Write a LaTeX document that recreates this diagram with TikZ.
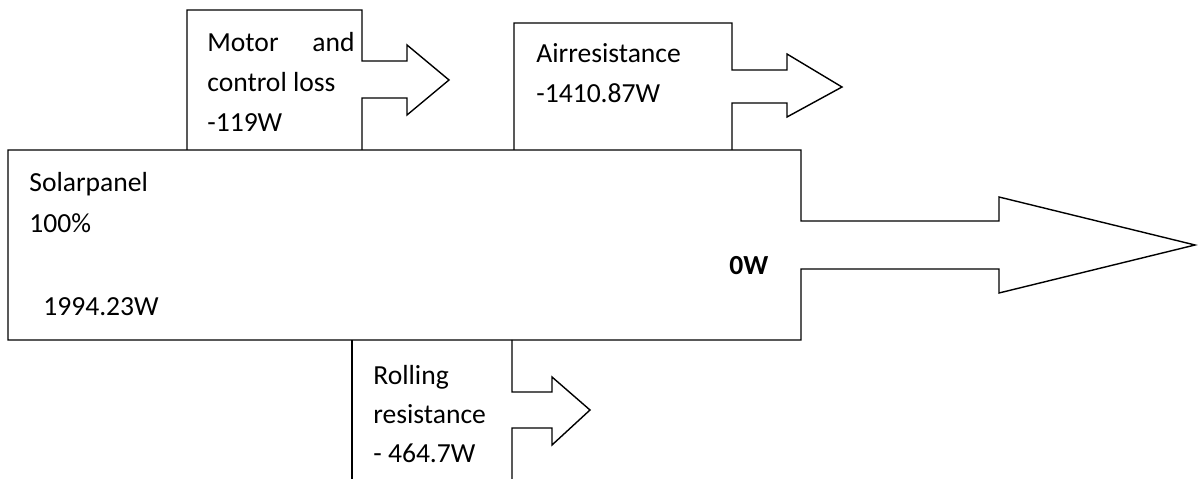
\documentclass[tikz,border=0pt]{standalone}
\usepackage{fontspec}
\setmainfont{Carlito}
\usetikzlibrary{positioning}

\tikzset{
  lbl/.style={anchor=base west,inner sep=0pt,font=\fontsize{15.7}{22.7}\selectfont},
  flow/.style={draw,line width=0.8pt,line join=miter}
}

\begin{document}
\begin{tikzpicture}[x=0.02cm,y=-0.02cm]
\useasboundingbox (0,0) rectangle (1200,479);

% solar panel with the outgoing arrow
\draw[flow] (8,150) -- (801,150) -- (801,221) -- (999,221) -- (999,197) -- (1195,245)
  -- (999,293) -- (999,269) -- (801,269) -- (801,340) -- (8,340) -- cycle;
% motor and control loss
\draw[flow] (187,150) -- (187,10) -- (362,10) -- (362,61) -- (407,61) -- (407,45) -- (449,80)
  -- (407,115) -- (407,98) -- (362,98) -- (362,150);
% air resistance
\draw[flow] (514,150) -- (514,23) -- (732,23) -- (732,70) -- (787,70) -- (787,54) -- (842,87)
  -- (787,117) -- (787,103) -- (732,103) -- (732,150);
% rolling resistance
\draw[flow] (352,479) -- (352,340);
\draw[flow] (512,340) -- (512,392) -- (552,392) -- (552,377) -- (590,410)
  -- (552,445) -- (552,428) -- (512,428) -- (512,479);

\node[lbl] (solar) at (29,192) {Solarpanel};
\node[lbl] (pct) at (29,233) {100\%};
\node[lbl] (solarw) at (43,316) {1994.23W};
\node[lbl,font=\fontsize{15.7}{22.7}\selectfont\bfseries] (out) at (729,275) {0W};

\node[lbl] (motor) at (207,52) {Motor};
\node[lbl,anchor=base east] (motorand) at (355,52) {and};
\node[lbl] (motor2) at (207,92) {control loss};
\node[lbl] (motorw) at (207,132) {-119W};

\node[lbl] (air) at (536,63) {Airresistance};
\node[lbl] (airw) at (536,103) {-1410.87W};

\node[lbl] (roll) at (373,385) {Rolling};
\node[lbl] (roll2) at (373,423) {resistance};
\node[lbl] (rollw) at (373,462) {- 464.7W};
\end{tikzpicture}
\end{document}
